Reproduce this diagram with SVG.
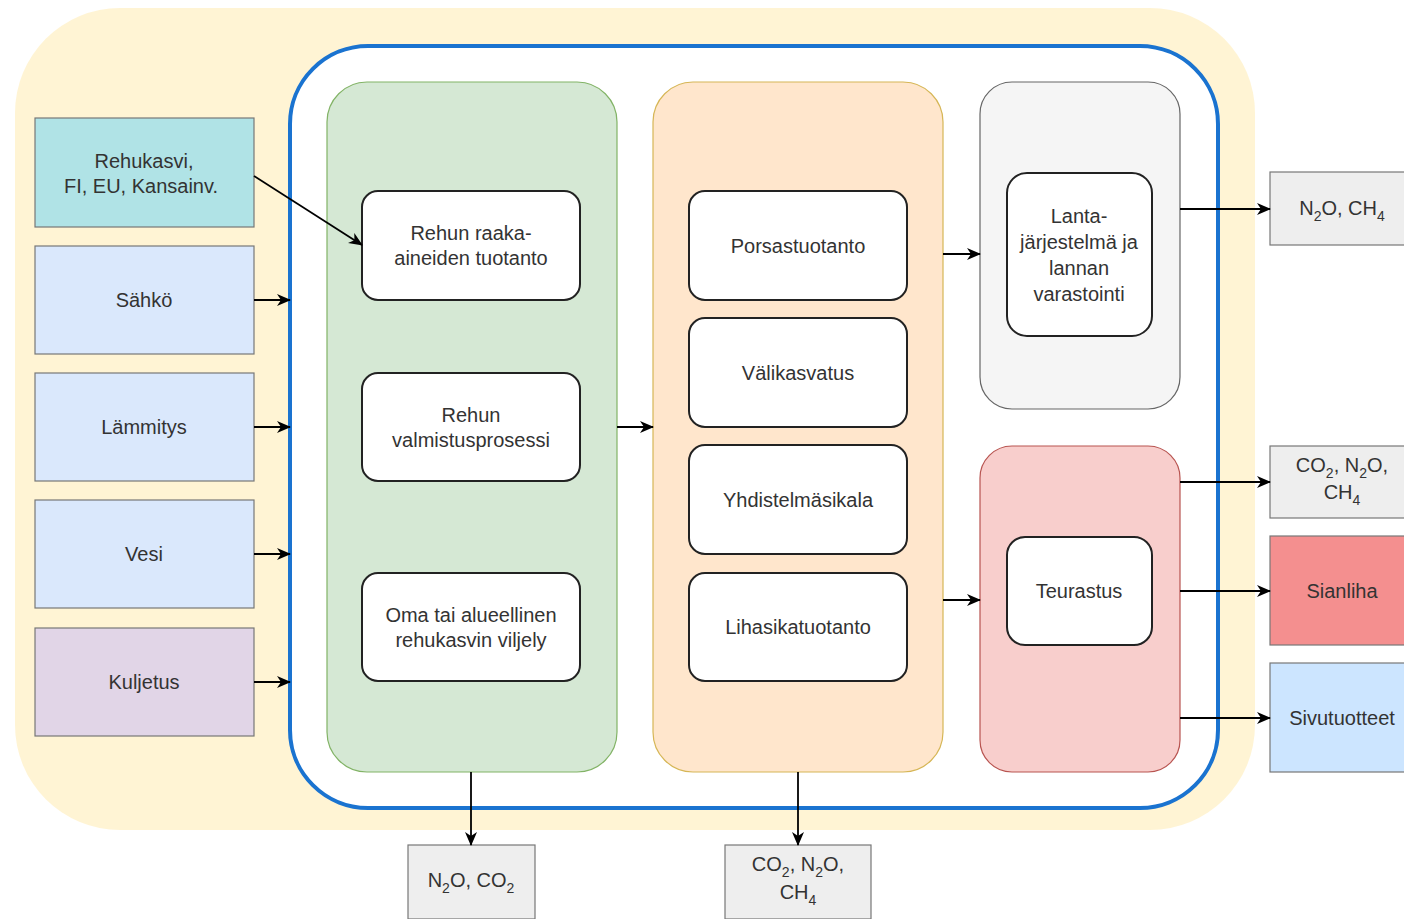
<svg xmlns="http://www.w3.org/2000/svg" width="1404" height="919" viewBox="0 0 1404 919">
<defs>
<marker id="ah" markerWidth="14" markerHeight="14" refX="13" refY="7" orient="auto" markerUnits="userSpaceOnUse">
<path d="M0,1 L14,7 L0,13 L4,7 Z" fill="#000"/>
</marker>
<style>
text{font-family:"Liberation Sans",Arial,sans-serif;font-size:20px;fill:#333;text-anchor:middle}
.src{stroke:#777;stroke-width:1.2}
.inner{fill:#fff;stroke:#222;stroke-width:2}
.conn line{stroke:#000;stroke-width:1.8;marker-end:url(#ah)}
.sub{font-size:14px}
</style>
</defs>
<rect width="1404" height="919" fill="#fff"/>
<g id="background">
<rect x="15" y="8" width="1240" height="822" rx="105" ry="105" fill="#fff2cc" opacity="0.85"/>
</g>
<g id="system">
<rect x="290" y="46" width="928" height="762" rx="78" ry="78" fill="#fff" stroke="#1a73d0" stroke-width="4"/>
</g>
<g id="feed-panel">
<rect x="327" y="82" width="290" height="690" rx="40" fill="#d5e8d4" stroke="#82b366" stroke-width="1.2"/>
</g>
<g id="pig-panel">
<rect x="653" y="82" width="290" height="690" rx="40" fill="#ffe6cc" stroke="#d6b656" stroke-width="1.2"/>
</g>
<g id="manure-panel">
<rect x="980" y="82" width="200" height="327" rx="32" fill="#f5f5f5" stroke="#666" stroke-width="1.2"/>
</g>
<g id="slaughter-panel">
<rect x="980" y="446" width="200" height="326" rx="32" fill="#f8cecc" stroke="#b85450" stroke-width="1.2"/>
</g>
<g id="rehukasvi">
<rect class="src" x="35" y="118" width="219" height="109" fill="#b0e3e6" stroke="#0e8088"/>
<text x="144" y="168">Rehukasvi,</text>
<text x="141" y="193">FI, EU, Kansainv.</text>
</g>
<g id="sahko">
<rect class="src" x="35" y="246" width="219" height="108" fill="#dae8fc"/>
<text x="144" y="307">Sähkö</text>
</g>
<g id="lammitys">
<rect class="src" x="35" y="373" width="219" height="108" fill="#dae8fc"/>
<text x="144" y="434">Lämmitys</text>
</g>
<g id="vesi">
<rect class="src" x="35" y="500" width="219" height="108" fill="#dae8fc"/>
<text x="144" y="561">Vesi</text>
</g>
<g id="kuljetus">
<rect class="src" x="35" y="628" width="219" height="108" fill="#e1d5e7"/>
<text x="144" y="689">Kuljetus</text>
</g>
<g id="raaka">
<rect class="inner" x="362" y="191" width="218" height="109" rx="16"/>
<text x="471" y="240">Rehun raaka-</text>
<text x="471" y="265">aineiden tuotanto</text>
</g>
<g id="valmistus">
<rect class="inner" x="362" y="373" width="218" height="108" rx="16"/>
<text x="471" y="422">Rehun</text>
<text x="471" y="447">valmistusprosessi</text>
</g>
<g id="viljely">
<rect class="inner" x="362" y="573" width="218" height="108" rx="16"/>
<text x="471" y="622">Oma tai alueellinen</text>
<text x="471" y="647">rehukasvin viljely</text>
</g>
<g id="porsas">
<rect class="inner" x="689" y="191" width="218" height="109" rx="16"/>
<text x="798" y="253">Porsastuotanto</text>
</g>
<g id="valikasvatus">
<rect class="inner" x="689" y="318" width="218" height="109" rx="16"/>
<text x="798" y="380">Välikasvatus</text>
</g>
<g id="yhdistelma">
<rect class="inner" x="689" y="445" width="218" height="109" rx="16"/>
<text x="798" y="507">Yhdistelmäsikala</text>
</g>
<g id="lihasika">
<rect class="inner" x="689" y="573" width="218" height="108" rx="16"/>
<text x="798" y="634">Lihasikatuotanto</text>
</g>
<g id="lanta">
<rect class="inner" x="1007" y="173" width="145" height="163" rx="20"/>
<text x="1079" y="223">Lanta-</text>
<text x="1079" y="249">järjestelmä ja</text>
<text x="1079" y="275">lannan</text>
<text x="1079" y="301">varastointi</text>
</g>
<g id="teurastus">
<rect class="inner" x="1007" y="537" width="145" height="108" rx="18"/>
<text x="1079" y="598">Teurastus</text>
</g>
<g id="out-lanta">
<rect class="src" x="1270" y="172" width="140" height="73" fill="#eeeeee" stroke="#666"/>
<text x="1342" y="215">N<tspan class="sub" dy="6">2</tspan><tspan dy="-6">O, CH</tspan><tspan class="sub" dy="6">4</tspan></text>
</g>
<g id="out-teur">
<rect class="src" x="1270" y="446" width="140" height="72" fill="#eeeeee" stroke="#666"/>
<text x="1342" y="472">CO<tspan class="sub" dy="6">2</tspan><tspan dy="-6">, N</tspan><tspan class="sub" dy="6">2</tspan><tspan dy="-6">O,</tspan></text>
<text x="1342" y="499">CH<tspan class="sub" dy="6">4</tspan></text>
</g>
<g id="sianliha">
<rect class="src" x="1270" y="536" width="140" height="109" fill="#f48f8f" stroke="#b85450"/>
<text x="1342" y="598">Sianliha</text>
</g>
<g id="sivutuotteet">
<rect class="src" x="1270" y="663" width="140" height="109" fill="#cce5ff" stroke="#36393d"/>
<text x="1342" y="725">Sivutuotteet</text>
</g>
<g id="out-feed">
<rect class="src" x="408" y="845" width="127" height="74" fill="#eeeeee" stroke="#666"/>
<text x="471" y="887">N<tspan class="sub" dy="6">2</tspan><tspan dy="-6">O, CO</tspan><tspan class="sub" dy="6">2</tspan></text>
</g>
<g id="out-pig">
<rect class="src" x="725" y="845" width="146" height="74" fill="#eeeeee" stroke="#666"/>
<text x="798" y="871">CO<tspan class="sub" dy="6">2</tspan><tspan dy="-6">, N</tspan><tspan class="sub" dy="6">2</tspan><tspan dy="-6">O,</tspan></text>
<text x="798" y="899">CH<tspan class="sub" dy="6">4</tspan></text>
</g>
<g class="conn" id="connectors">
<line x1="254" y1="176" x2="362" y2="245"/>
<line x1="254" y1="300" x2="290" y2="300"/>
<line x1="254" y1="427" x2="290" y2="427"/>
<line x1="254" y1="554" x2="290" y2="554"/>
<line x1="254" y1="682" x2="290" y2="682"/>
<line x1="617" y1="427" x2="653" y2="427"/>
<line x1="943" y1="254" x2="980" y2="254"/>
<line x1="943" y1="600" x2="980" y2="600"/>
<line x1="1180" y1="209" x2="1270" y2="209"/>
<line x1="1180" y1="482" x2="1270" y2="482"/>
<line x1="1180" y1="591" x2="1270" y2="591"/>
<line x1="1180" y1="718" x2="1270" y2="718"/>
<line x1="471" y1="772" x2="471" y2="845"/>
<line x1="798" y1="772" x2="798" y2="845"/>
</g>
</svg>
